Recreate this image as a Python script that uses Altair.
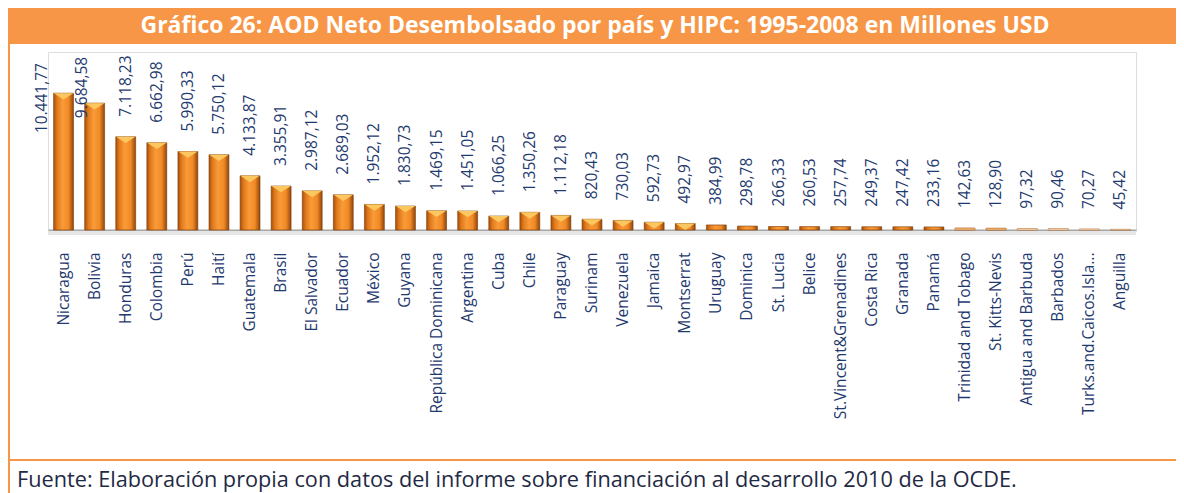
import altair as alt
import pandas as pd

countries = ["Nicaragua", "Bolivia", "Honduras", "Colombia", "Perú", "Haití", "Guatemala",
             "Brasil", "El Salvador", "Ecuador", "México", "Guyana", "República Dominicana",
             "Argentina", "Cuba", "Chile", "Paraguay", "Surinam", "Venezuela", "Jamaica",
             "Montserrat", "Uruguay", "Dominica", "St. Lucia", "Belice", "St.Vincent&Grenadines",
             "Costa Rica", "Granada", "Panamá", "Trinidad and Tobago", "St. Kitts-Nevis",
             "Antigua and Barbuda", "Barbados", "Turks.and.Caicos.Isla...", "Anguilla"]
values = [10441.77, 9684.58, 7118.23, 6662.98, 5990.33, 5750.12, 4133.87, 3355.91, 2987.12,
          2689.03, 1952.12, 1830.73, 1469.15, 1451.05, 1066.25, 1350.26, 1112.18, 820.43,
          730.03, 592.73, 492.97, 384.99, 298.78, 266.33, 260.53, 257.74, 249.37, 247.42,
          233.16, 142.63, 128.90, 97.32, 90.46, 70.27, 45.42]

title_text = "Gráfico 26: AOD Neto Desembolsado por país y HIPC: 1995-2008 en Millones USD"
source_text = "Fuente: Elaboración propia con datos del informe sobre financiación al desarrollo 2010 de la OCDE."


def es_format(v):
    s = f"{v:,.2f}"
    return s.replace(",", "X").replace(".", ",").replace("X", ".")


df = pd.DataFrame({
    "pais": countries,
    "valor": values,
    "etiqueta": [es_format(v) for v in values],
})

W, H = 1088, 178
PAD_B = 263
ORANGE = "#F79646"
NAVY = "#1F3A6E"
FONT = "Open Sans"

x_enc = alt.X("pais:N", sort=countries, title=None,
              scale=alt.Scale(paddingInner=0.36, paddingOuter=0.18),
              axis=alt.Axis(labelAngle=270, labelAlign="right", labelBaseline="middle",
                            labelFontSize=15.5, labelFont=FONT, labelColor=NAVY,
                            labelPadding=22, labelLimit=400, ticks=False,
                            domainColor="#A6A6A6", domainWidth=2, grid=False))
y_enc = alt.Y("valor:Q", title=None, axis=None,
              scale=alt.Scale(domain=[0, 13588], nice=False, zero=True))
x_plain = alt.X("pais:N", sort=countries)

base = alt.Chart(df)

gradient = alt.Gradient(
    gradient="linear", x1=0, x2=1, y1=0, y2=0,
    stops=[
        alt.GradientStop(color="#A94F0C", offset=0),
        alt.GradientStop(color="#E07A1C", offset=0.18),
        alt.GradientStop(color="#FA9B38", offset=0.45),
        alt.GradientStop(color="#F08A26", offset=0.75),
        alt.GradientStop(color="#93450A", offset=1),
    ])

shadow = alt.Chart(pd.DataFrame({"a": [0]})).mark_rule(
    color="#E6E6E6", strokeWidth=4).encode(
    x=alt.value(0), x2=alt.value(W), y=alt.value(H + 3))

bars = base.mark_bar(fill=gradient, stroke="#7A3A05", strokeWidth=0.6).encode(
    x=x_enc, y=y_enc)

# small bars: the bevel highlight covers almost the whole bar
pale1 = base.transform_filter("datum.valor < 150 && datum.valor >= 100").mark_bar(
    fill="#F2AE6C", stroke="#C98A50", strokeWidth=0.4).encode(x=x_plain, y="valor:Q")
pale2 = base.transform_filter("datum.valor < 100").mark_bar(
    fill="#F7CCA4", stroke="#E2B58C", strokeWidth=0.4).encode(x=x_plain, y="valor:Q")

bevel = base.transform_filter("datum.valor >= 400").mark_point(
    shape="M-1,0L1,0L0,0.65Z", size=380, filled=True, fill="#FDC760",
    stroke=None, opacity=1).encode(x=x_plain, y="valor:Q")

special = ["Nicaragua", "Bolivia"]
labels = base.transform_filter(
    alt.FieldOneOfPredicate(field="pais", oneOf=special).__invert__()
).mark_text(angle=270, align="left", baseline="middle", dx=20, fontSize=15.5,
            font=FONT, color=NAVY).encode(
    x=x_plain, y="valor:Q", text="etiqueta:N")

lab_nic = base.transform_filter(alt.datum.pais == "Nicaragua").mark_text(
    angle=270, align="left", baseline="middle", dx=-40, dy=-22, fontSize=15.5,
    font=FONT, color=NAVY).encode(
    x=x_plain, y="valor:Q", text="etiqueta:N")

lab_bol = base.transform_filter(alt.datum.pais == "Bolivia").mark_text(
    angle=270, align="left", baseline="middle", dx=-15, dy=-13, fontSize=15.5,
    font=FONT, color=NAVY).encode(
    x=x_plain, y="valor:Q", text="etiqueta:N")

one = pd.DataFrame({"t": [title_text]})
title_bar = alt.Chart(one).mark_rect(color=ORANGE).encode(
    x=alt.value(-40), x2=alt.value(W + 40), y=alt.value(-44), y2=alt.value(-8))
title = alt.Chart(one).mark_text(
    color="white", fontSize=23, fontWeight="bold", font=FONT, align="center",
    baseline="middle").encode(x=alt.value(547), y=alt.value(-26), text="t:N")

left_line = alt.Chart(one).mark_rule(color=ORANGE, strokeWidth=2).encode(
    x=alt.value(-39), y=alt.value(-8), y2=alt.value(H + PAD_B))
bottom_line = alt.Chart(one).mark_rule(color=ORANGE, strokeWidth=2).encode(
    x=alt.value(-39), x2=alt.value(W + 40), y=alt.value(H + 230))

src = alt.Chart(pd.DataFrame({"t": [source_text]})).mark_text(
    color="#1F2A44", fontSize=21.7, font=FONT, align="left", baseline="alphabetic").encode(
    x=alt.value(-31), y=alt.value(H + 257), text="t:N")

chart = alt.layer(
    title_bar, left_line, bottom_line, shadow, bars, pale1, pale2, bevel,
    labels, lab_nic, lab_bol, title, src
).properties(
    width=W, height=H,
    autosize=alt.AutoSizeParams(type="none"),
    padding={"left": 40, "top": 44, "right": 40, "bottom": PAD_B},
).configure_view(stroke=None).configure(background="white")

chart.save("out.html", embed_options={"renderer": "svg", "actions": False})
